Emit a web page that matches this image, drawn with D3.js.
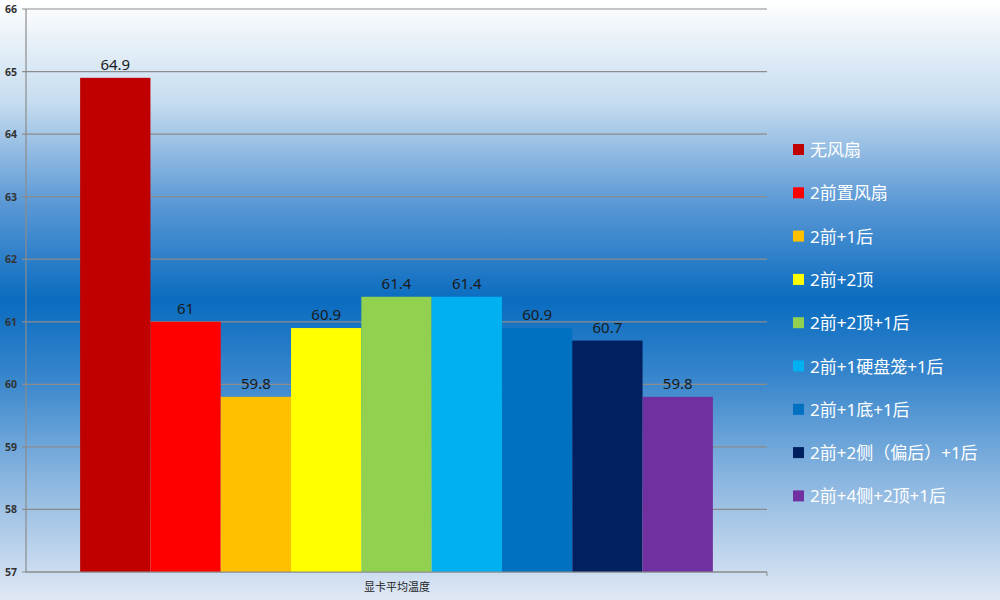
<!DOCTYPE html>
<head>
  <meta charset="utf-8">
  <script src="https://d3js.org/d3.v7.min.js"></script>
  <style>
    body { margin:0; }
    text { font-family: "Noto Sans", "Noto Sans CJK SC", sans-serif; }
  </style>
</head>
<body>
<script>
// data
var categories = ["无风扇", "2前置风扇", "2前+1后", "2前+2顶", "2前+2顶+1后",
                  "2前+1硬盘笼+1后", "2前+1底+1后", "2前+2侧（偏后）+1后", "2前+4侧+2顶+1后"];
var temps = [64.9, 61, 59.8, 60.9, 61.4, 61.4, 60.9, 60.7, 59.8];
var colors = ["#c00000", "#ff0000", "#ffc000", "#ffff00", "#92d050",
              "#00b0f0", "#0070c0", "#002060", "#7030a0"];
var yTicks = [57, 58, 59, 60, 61, 62, 63, 64, 65, 66];
var axisTitle = "显卡平均温度";

var width = 1000, height = 600;

var svg = d3.select("body").append("svg")
  .attr("width", width)
  .attr("height", height);

// background gradient
var grad = svg.append("defs").append("linearGradient")
  .attr("id", "bg").attr("x1", 0).attr("y1", 0).attr("x2", 0).attr("y2", 1);
[[0, "#ffffff"], [0.17, "#c6dcef"], [0.34, "#5a98d5"], [0.5, "#0a6cc0"],
 [0.63, "#3886cc"], [0.8, "#8ab6e0"], [1, "#e0e8f5"]].forEach(function(s) {
  grad.append("stop").attr("offset", s[0]).attr("stop-color", s[1]);
});
svg.append("rect").attr("width", width).attr("height", height).attr("fill", "url(#bg)");

var x = d3.scaleBand()
  .domain(categories)
  .range([26, 767])
  .paddingInner(0)
  .paddingOuter(0.77);

var y = d3.scaleLinear()
  .domain([57, 66])
  .range([572, 9]);

// gridlines
svg.selectAll(".grid")
  .data(yTicks)
  .enter().append("line")
  .attr("x1", 22).attr("x2", 767)
  .attr("y1", function(d) { return y(d); })
  .attr("y2", function(d) { return y(d); })
  .attr("stroke", "#8c8c8c")
  .attr("stroke-width", 1.2);

// y axis line
svg.append("line")
  .attr("x1", 26).attr("x2", 26)
  .attr("y1", y(66)).attr("y2", y(57))
  .attr("stroke", "#8c8c8c").attr("stroke-width", 1.2);

// y tick labels
svg.selectAll(".ytick")
  .data(yTicks)
  .enter().append("text")
  .attr("x", 17)
  .attr("y", function(d) { return y(d) + 4; })
  .attr("text-anchor", "end")
  .attr("font-size", 10.5)
  .attr("font-weight", "bold")
  .attr("fill", "#333")
  .text(function(d) { return d; });

// bars
svg.selectAll(".bar")
  .data(temps)
  .enter().append("rect")
  .attr("x", function(d, i) { return x(categories[i]); })
  .attr("y", function(d) { return y(d); })
  .attr("width", x.bandwidth())
  .attr("height", function(d) { return y(57) - y(d); })
  .attr("fill", function(d, i) { return colors[i]; });

// value labels
svg.selectAll(".val")
  .data(temps)
  .enter().append("text")
  .attr("x", function(d, i) { return x(categories[i]) + x.bandwidth() / 2; })
  .attr("y", function(d) { return y(d) - 8; })
  .attr("text-anchor", "middle")
  .attr("font-size", 15)
  .attr("fill", "#1a1a1a")
  .text(function(d) { return d; });

// bottom axis line and category title
svg.append("line")
  .attr("x1", 26).attr("x2", 767)
  .attr("y1", y(57)).attr("y2", y(57))
  .attr("stroke", "#8c8c8c").attr("stroke-width", 1.2);
svg.append("line")
  .attr("x1", 767).attr("x2", 767)
  .attr("y1", y(57)).attr("y2", y(57) + 4)
  .attr("stroke", "#8c8c8c");

svg.append("text")
  .attr("x", 397).attr("y", 591)
  .attr("text-anchor", "middle")
  .attr("font-size", 11)
  .attr("font-family", "Noto Sans CJK SC")
  .attr("fill", "#222")
  .text(axisTitle);

// legend
var legend = svg.selectAll(".legend")
  .data(categories)
  .enter().append("g")
  .attr("transform", function(d, i) { return "translate(793," + (150 + i * 43.3) + ")"; });

legend.append("rect")
  .attr("x", 0).attr("y", -6)
  .attr("width", 11).attr("height", 11)
  .attr("fill", function(d, i) { return colors[i]; });

legend.append("text")
  .attr("x", 17).attr("y", 6)
  .attr("font-size", 17)
  .attr("font-family", "Noto Sans CJK SC")
  .attr("fill", "#ffffff")
  .text(function(d) { return d; });
</script>
</body>
